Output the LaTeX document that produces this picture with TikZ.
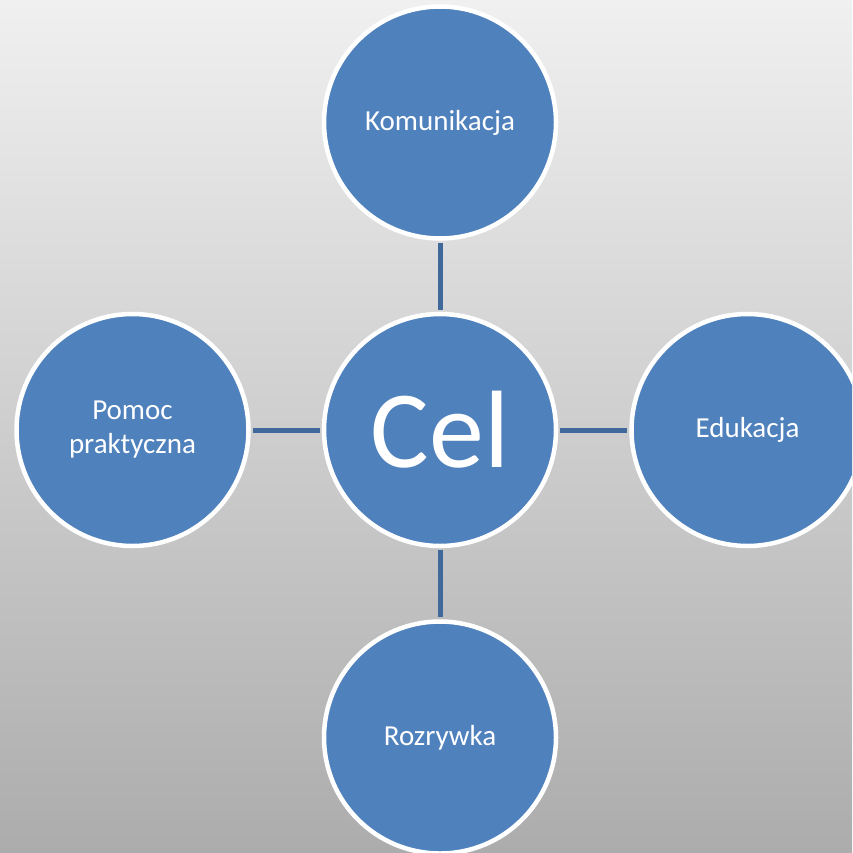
\documentclass[tikz,border=0pt]{standalone}
\usepackage{fontspec}
\setmainfont{Carlito}
\usepackage{tikz}
\usetikzlibrary{positioning}
\definecolor{celblue}{RGB}{79,129,189}
\definecolor{linkblue}{RGB}{65,104,154}
\definecolor{bgtop}{RGB}{240,240,240}
\definecolor{bgbottom}{RGB}{172,172,172}

\begin{document}
\begin{tikzpicture}[x=1pt,y=1pt,node distance=71pt,
    krag/.style={circle,draw=white,line width=4.5pt,fill=celblue,text=white,
      minimum size=232pt,inner sep=0pt,align=center,
      font=\fontsize{29}{34}\selectfont},
    lacznik/.style={draw=linkblue,line width=5pt,shorten <=2pt,shorten >=2pt}]
      \useasboundingbox (0,0) rectangle (852,-853);
      \clip (0,0) rectangle (852,-853);
      \shade[top color=bgtop,bottom color=bgbottom] (0,0) rectangle (852,-853);
      \node[krag,font=\fontsize{110}{110}\selectfont] (cel) at (440,-430) {Cel};
      \node[krag,above=of cel] (kom) {Komunikacja};
      \node[krag,below=of cel] (roz) {Rozrywka};
      \node[krag,left=of cel] (pom) {Pomoc\\praktyczna};
      \node[krag,right=of cel] (edu) {Edukacja};
      \draw[lacznik] (cel) -- (kom);
      \draw[lacznik] (cel) -- (roz);
      \draw[lacznik] (cel) -- (pom);
      \draw[lacznik] (cel) -- (edu);
    \end{tikzpicture}
\end{document}
